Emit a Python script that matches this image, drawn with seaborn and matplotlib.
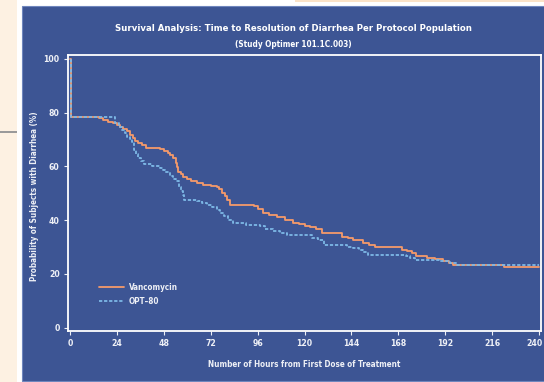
import matplotlib
matplotlib.use("Agg")
import pandas as pd
import seaborn as sns
import matplotlib.pyplot as plt
import matplotlib.transforms as mtransforms
from matplotlib.patches import Rectangle

# Kaplan-Meier step values (hours, % with diarrhea)
vanco_hours = [0, 0.5, 12, 15, 17, 19.5, 22, 24, 25.5, 27, 29, 30.5, 32, 33.5, 35, 37,
               39, 46, 48, 50, 51, 52.5, 54, 55, 55.5, 57, 58, 60, 62, 65, 68, 72, 75,
               76.5, 78, 79.5, 80.5, 82, 94, 96, 99, 102, 106, 110, 114, 117, 120, 123,
               126, 129, 139, 142, 145, 150, 153, 156, 170, 172.5, 175, 177, 182.5,
               187, 191, 194, 196, 222, 240]
vanco_pct = [100, 78.5, 78.2, 77.8, 77.3, 76.6, 76.0, 75.4, 74.8, 74.0, 73.0, 71.8,
             70.6, 69.6, 68.8, 67.8, 67.0, 66.6, 65.8, 65.0, 64.3, 63.0, 61.3, 59.8,
             58.0, 57.0, 56.0, 55.2, 54.4, 53.8, 53.2, 52.8, 52.4, 51.5, 50.2, 49.0,
             47.5, 45.7, 45.1, 44.2, 42.7, 41.8, 41.0, 40.2, 39.1, 38.6, 37.9, 37.3,
             36.8, 35.2, 33.7, 33.2, 32.7, 31.6, 30.9, 30.2, 29.0, 28.4, 27.9, 26.5,
             25.9, 25.4, 24.9, 24.1, 23.4, 22.6, 22.6]

opt_hours = [0, 0.5, 20.5, 23, 25, 26.4, 28, 29, 30.5, 31.6, 33, 34, 35, 36.5, 38, 42,
             46, 47.5, 48.6, 51, 52.5, 54, 56, 57, 58, 58.5, 65, 67.5, 70, 72.5, 75,
             77, 79, 81, 83.5, 90, 97, 100, 104, 107.5, 111, 124, 127, 130, 141.6,
             145, 148, 150, 152.5, 172, 174, 176.5, 189, 194.5, 198, 240]
opt_pct = [99.5, 78.5, 78.2, 76.3, 74.8, 73.6, 72.3, 71.1, 70.0, 68.9, 66.2, 64.6,
           63.1, 62.0, 61.0, 60.0, 59.5, 58.6, 57.8, 56.5, 55.4, 54.4, 52.5, 51.0,
           49.4, 47.6, 47.0, 46.4, 45.7, 44.8, 43.9, 42.6, 41.4, 40.2, 38.9, 38.3,
           37.7, 36.8, 35.8, 35.2, 34.6, 33.3, 32.7, 30.9, 30.2, 29.6, 29.0, 28.2,
           27.1, 26.8, 26.0, 25.3, 24.7, 24.0, 23.4, 23.4]

x_ticks = [0, 24, 48, 72, 96, 120, 144, 168, 192, 216, 240]
y_ticks = [0, 20, 40, 60, 80, 100]

treatments = ["Vancomycin", "OPT\u201380"]

df = pd.concat([
    pd.DataFrame({"hours": vanco_hours, "pct": vanco_pct, "group": treatments[0]}),
    pd.DataFrame({"hours": opt_hours, "pct": opt_pct, "group": treatments[1]}),
])

bg_blue = "#3d5594"
fg = "#eef0f6"

sns.set_theme(style="white")
plt.rcParams["font.family"] = ["DejaVu Sans"]
plt.rcParams["font.stretch"] = "condensed"
plt.rcParams["font.weight"] = "bold"

fig = plt.figure(figsize=(5.44, 3.82), dpi=100)
fig.patch.set_facecolor("white")

# page decoration around the panel
fig.add_artist(Rectangle((0, 0), 17 / 544, 1, transform=fig.transFigure,
                         facecolor="#fdf1e2", edgecolor="none", zorder=0))
fig.add_artist(Rectangle((295 / 544, 1 - 2 / 382), 1, 2 / 382, transform=fig.transFigure,
                         facecolor="#fbe3c8", edgecolor="none", zorder=0))
fig.add_artist(Rectangle((0, 1 - 133 / 382), 17 / 544, 2 / 382, transform=fig.transFigure,
                         facecolor="#9a9a9a", edgecolor="none", zorder=1))
fig.add_artist(Rectangle((22 / 544, 1 / 382), 1, 375 / 382, transform=fig.transFigure,
                         facecolor=bg_blue, edgecolor="#6f86bd", linewidth=0.8, zorder=0))

ax = fig.add_axes([68 / 544, 1 - 331 / 382, 473 / 544, 276 / 382])
ax.set_facecolor(bg_blue)

sns.lineplot(
    data=df, x="hours", y="pct", hue="group", style="group",
    palette={treatments[0]: "#f59a6a", treatments[1]: "#7db8e6"},
    dashes={treatments[0]: "", treatments[1]: (1.8, 1.0)},
    drawstyle="steps-post", linewidth=1.3, ax=ax, sort=False,
)

ax.set_xlim(-1, 241)
ax.set_ylim(-1.2, 101.4)
ax.set_xticks(x_ticks)
ax.set_yticks(y_ticks)

for side in ["left", "right", "top", "bottom"]:
    ax.spines[side].set_color("white")
    ax.spines[side].set_linewidth(1.3)

ax.tick_params(axis="both", which="major", direction="out", length=3, width=0.8,
               color=fg, labelcolor=fg, labelsize=6.2, pad=3,
               bottom=True, left=True)

# keep the last hour label inside the panel
last = ax.get_xticklabels()[-1]
last.set_transform(last.get_transform() +
                   mtransforms.ScaledTranslation(-5 / 100, 0, fig.dpi_scale_trans))

ax.set_xlabel("Number of Hours from First Dose of Treatment", color=fg,
              fontsize=5.9, fontweight="bold")
ax.xaxis.set_label_coords(0.5, -0.105)
ax.set_ylabel("Probability of Subjects with Diarrhea (%)", color=fg,
              fontsize=5.9, fontweight="bold")
ax.yaxis.set_label_coords(-0.062, 0.49)

leg = ax.legend(loc="lower left", bbox_to_anchor=(0.05, 0.065), frameon=False,
                fontsize=5.9, handlelength=3.0, handletextpad=0.6, labelspacing=0.6)
for txt in leg.get_texts():
    txt.set_color(fg)
    txt.set_fontweight("bold")

fig.text(293 / 544, 1 - 28.5 / 382,
         "Survival Analysis: Time to Resolution of Diarrhea Per Protocol Population",
         ha="center", va="center", color="white", fontsize=6.8, fontweight="bold")
fig.text(293 / 544, 1 - 44.5 / 382, "(Study Optimer 101.1C.003)",
         ha="center", va="center", color="white", fontsize=5.9, fontweight="bold")

fig.savefig("out.png", dpi=100, facecolor=fig.get_facecolor())
